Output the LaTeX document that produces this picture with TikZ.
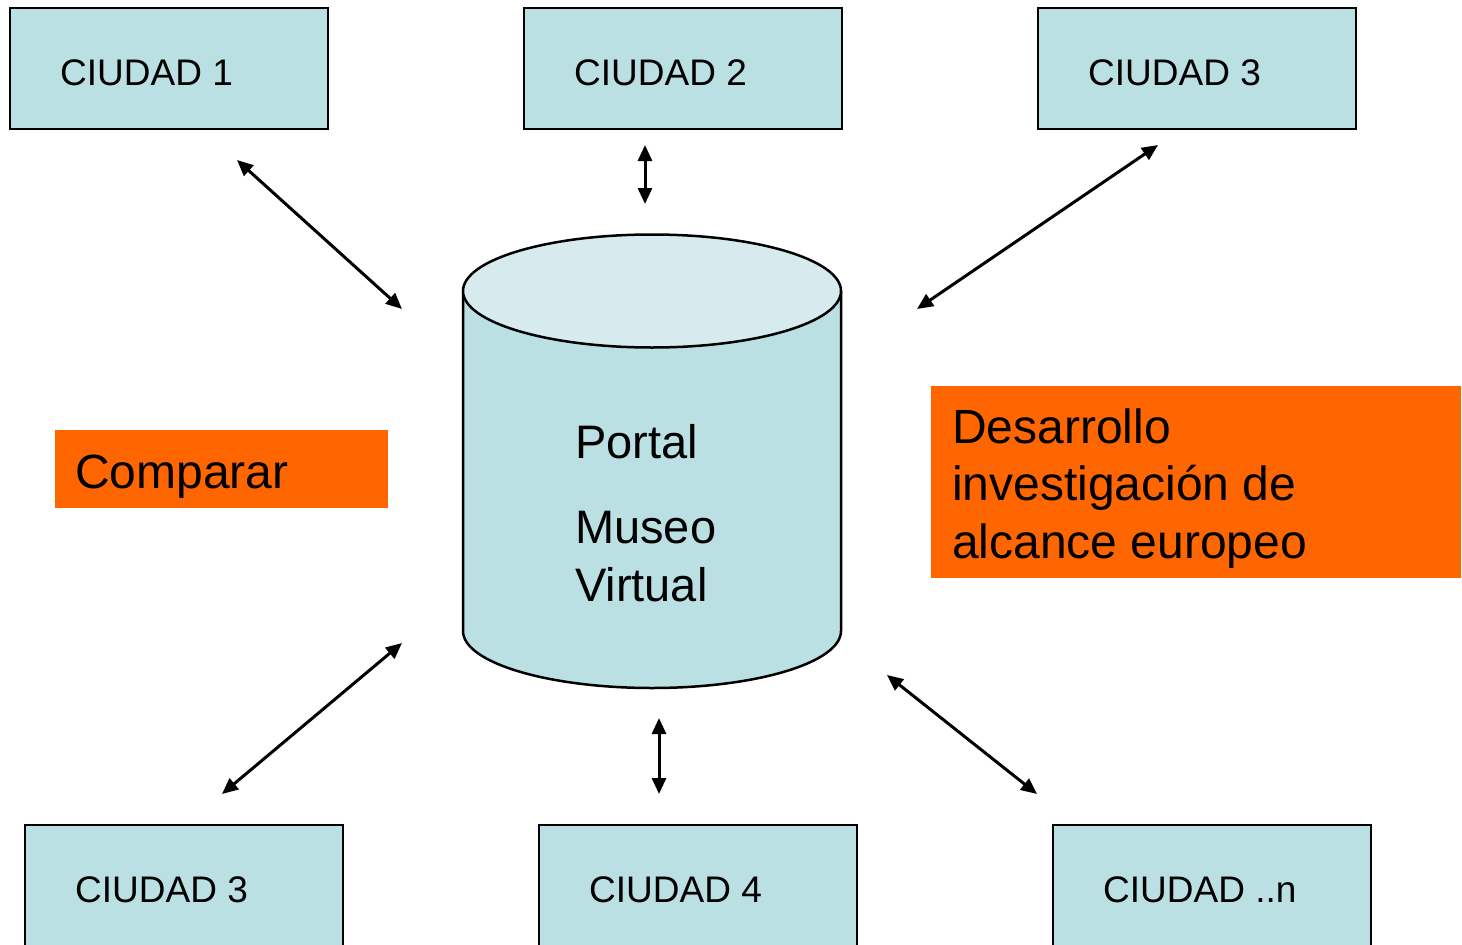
\documentclass[tikz,border=0pt]{standalone}
\usepackage{fontspec}
\setmainfont{Liberation Sans}
\usetikzlibrary{arrows.meta}
\definecolor{boxfill}{HTML}{BBE0E3}
\definecolor{topfill}{HTML}{D7EBEE}
\definecolor{orangefill}{HTML}{FF6600}
\tikzset{
  city/.style={draw=black, line width=2.5pt, fill=boxfill, minimum width=318pt, minimum height=121pt, inner sep=0pt, outer sep=0pt},
  citytext/.style={anchor=base west, inner sep=0pt, font=\fontsize{37}{40}\selectfont},
  bigtext/.style={anchor=base west, inner sep=0pt, font=\fontsize{48}{58}\selectfont},
  link/.style={line width=3pt, {Triangle[length=16pt,width=14pt]}-{Triangle[length=16pt,width=14pt]}},
}
\begin{document}
\begin{tikzpicture}[x=1pt,y=-1pt]
\useasboundingbox (0,0) rectangle (1462,945);
% top cities
\node[city, anchor=north west] (c1) at (10,8) {};
\node[citytext] at (60,85) {CIUDAD 1};
\node[city, anchor=north west] (c2) at (524,8) {};
\node[citytext] at (574,85) {CIUDAD 2};
\node[city, anchor=north west] (c3) at (1038,8) {};
\node[citytext] at (1088,85) {CIUDAD 3};
% bottom cities
\node[city, anchor=north west] (c4) at (25,825) {};
\node[citytext] at (75,902) {CIUDAD 3};
\node[city, anchor=north west] (c5) at (539,825) {};
\node[citytext] at (589,902) {CIUDAD 4};
\node[city, anchor=north west] (c6) at (1053,825) {};
\node[citytext] at (1103,902) {CIUDAD ..n};
% cylinder
\fill[boxfill] (463,291) -- (463,631) arc[start angle=180, end angle=0, x radius=189, y radius=57] -- (841,291) -- cycle;
\draw[line width=2.5pt] (463,291) -- (463,631) arc[start angle=180, end angle=0, x radius=189, y radius=57] -- (841,291);
\draw[line width=2.5pt, fill=topfill] (652,291) ellipse[x radius=189, y radius=56.5];
\node[bigtext, font=\fontsize{47}{58}\selectfont] (portal) at (575,458) {Portal};
\node[bigtext, font=\fontsize{47}{58}\selectfont] (museo) at (575,543) {Museo};
\node[bigtext, font=\fontsize{47}{58}\selectfont] (virtual) at (575,601) {Virtual};
% orange labels
\node[fill=orangefill, anchor=north west, minimum width=333pt, minimum height=78pt, inner sep=0pt] (cmpbox) at (55,430) {};
\node[bigtext] (cmp) at (75,488) {Comparar};
\node[fill=orangefill, anchor=north west, minimum width=530pt, minimum height=192pt, inner sep=0pt] (desbox) at (931,386) {};
\node[bigtext] (d1) at (952,443) {Desarrollo};
\node[bigtext] (d2) at (952,500) {investigación de};
\node[bigtext] (d3) at (952,558) {alcance europeo};
% arrow ends
\coordinate (a1s) at (237,160); \coordinate (a1e) at (402,309);
\coordinate (a2s) at (645,145); \coordinate (a2e) at (645,204);
\coordinate (a3s) at (1158,145); \coordinate (a3e) at (917,309);
\coordinate (a4s) at (402,643); \coordinate (a4e) at (222,794);
\coordinate (a5s) at (659,718); \coordinate (a5e) at (659,794);
\coordinate (a6s) at (887,675); \coordinate (a6e) at (1037,794);
\draw[link] (a1s) -- (a1e);
\draw[link] (a2s) -- (a2e);
\draw[link] (a3s) -- (a3e);
\draw[link] (a4s) -- (a4e);
\draw[link] (a5s) -- (a5e);
\draw[link] (a6s) -- (a6e);
\end{tikzpicture}
\end{document}
